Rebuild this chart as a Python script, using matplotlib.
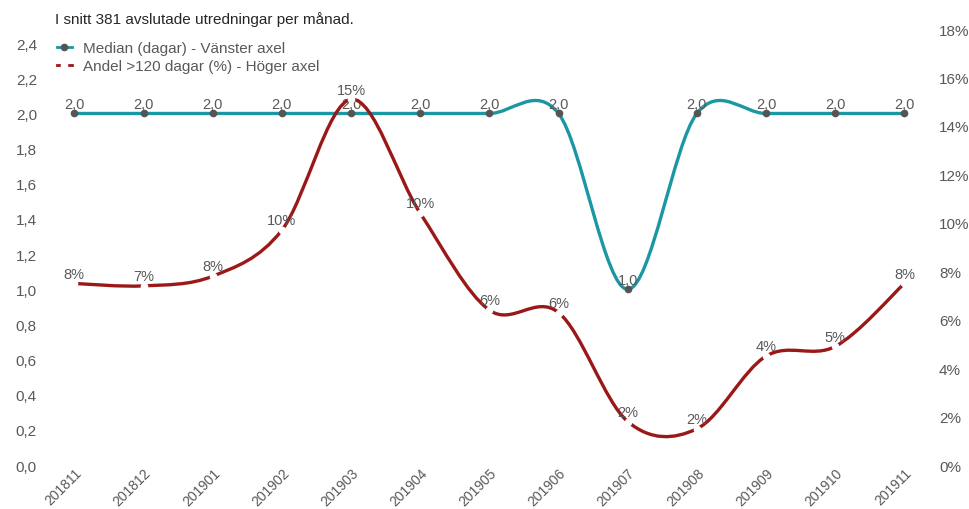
import numpy as np
import matplotlib.pyplot as plt
from matplotlib.path import Path
from matplotlib.patches import PathPatch
from matplotlib.lines import Line2D

plt.rcParams['font.family'] = ['Liberation Sans', 'DejaVu Sans']

months = ['201811', '201812', '201901', '201902', '201903', '201904', '201905',
          '201906', '201907', '201908', '201909', '201910', '201911']
median_days = [2.0, 2.0, 2.0, 2.0, 2.0, 2.0, 2.0, 2.0, 1.0, 2.0, 2.0, 2.0, 2.0]
share_over_120 = [7.5, 7.4, 7.8, 9.7, 15.1, 10.4, 6.4, 6.3, 1.8, 1.5, 4.5, 4.9, 7.5]
share_labels = ['8%', '7%', '8%', '10%', '15%', '10%', '6%', '6%', '2%', '2%', '4%', '5%', '8%']

teal = '#1b97a3'
red = '#9b1818'
grey = '#595959'


def smooth_path(x, y):
    # Catmull-Rom style bezier, like the "smoothed line" option in Excel
    x = np.asarray(x, float)
    y = np.asarray(y, float)
    pts = np.column_stack([x, y])
    verts = [pts[0]]
    codes = [Path.MOVETO]
    n = len(pts)
    for i in range(n - 1):
        p0 = pts[max(i - 1, 0)]
        p1 = pts[i]
        p2 = pts[i + 1]
        p3 = pts[min(i + 2, n - 1)]
        c1 = p1 + (p2 - p0) / 6
        c2 = p2 - (p3 - p1) / 6
        verts += [c1, c2, p2]
        codes += [Path.CURVE4] * 3
    return Path(verts, codes)


fig = plt.figure(figsize=(9.7, 5.1), dpi=100)
ax = fig.add_axes([0.041, 0.086, 0.927, 0.855])
ax2 = ax.twinx()

xs = np.arange(len(months))

ax.add_patch(PathPatch(smooth_path(xs, median_days), fill=False, edgecolor=teal, lw=2.4, zorder=3))
ax.plot(xs, median_days, 'o', color='#555555', ms=4.5, zorder=4)
for x, v in zip(xs, median_days):
    ax.annotate(f'{v:.1f}'.replace('.', ','), (x, v), xytext=(0, 1.5), textcoords='offset points',
                ha='center', va='bottom', fontsize=10.5, color=grey, zorder=6)

ax2.add_patch(PathPatch(smooth_path(xs, share_over_120), fill=False, edgecolor=red, lw=2.4, zorder=3))
ax2.plot(xs, share_over_120, 'o', color='white', mec='white', ms=4.5, zorder=4)
for x, v, lab in zip(xs, share_over_120, share_labels):
    ax2.annotate(lab, (x, v), xytext=(0, 2), textcoords='offset points',
                 ha='center', va='bottom', fontsize=10.5, color=grey, zorder=6)

ax.set_xlim(-0.5, len(months) - 0.5)
ax.set_ylim(0, 2.48)
ax2.set_ylim(0, 18)

ax.set_yticks(np.arange(0, 2.41, 0.2))
ax.set_yticklabels([f'{t:.1f}'.replace('.', ',') for t in np.arange(0, 2.41, 0.2)])
ax2.set_yticks(np.arange(0, 19, 2))
ax2.set_yticklabels([f'{t}%' for t in range(0, 19, 2)])

ax.set_xticks(xs)
ax.set_xticklabels(months, rotation=45, ha='right', rotation_mode='anchor')

for a in (ax, ax2):
    for s in a.spines.values():
        s.set_visible(False)
    a.tick_params(length=0, labelsize=11, colors=grey)
ax.tick_params(axis='y', pad=2)
ax.tick_params(axis='x', pad=0, labelsize=10)
ax2.tick_params(axis='y', pad=0)

handles = [
    Line2D([], [], color=teal, lw=2, marker='o', mfc='#555555', mec='#555555', ms=4.5),
    Line2D([], [], color=red, lw=2, marker='o', mfc='white', mec='white', ms=4.5),
]
ax.legend(handles, ['Median (dagar) - Vänster axel', 'Andel >120 dagar (%) - Höger axel'],
          loc='upper left', bbox_to_anchor=(0.012, 0.987), frameon=False, fontsize=11,
          handlelength=1.0, handletextpad=0.7, labelspacing=0.3, labelcolor=grey,
          borderaxespad=0.0)

fig.text(55 / 970, 1 - 20 / 510, 'I snitt 381 avslutade utredningar per månad.',
         fontsize=11, color='#262626', va='center', ha='left')

fig.savefig('out.png', dpi=100)
